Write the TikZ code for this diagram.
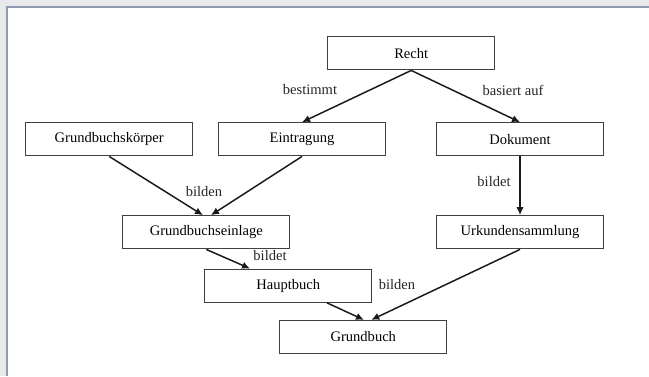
\documentclass[tikz,border=0pt]{standalone}
\usepackage{fontspec}
\setmainfont{Liberation Serif}
\usetikzlibrary{arrows.meta}
\definecolor{bggrey}{HTML}{E8E9EB}
\definecolor{edge}{HTML}{8E9AB0}
\tikzset{b/.style={draw=black!75,line width=.9pt,fill=white,minimum width=125.2pt,minimum height=24.8pt,inner sep=0pt},
 lbl/.style={inner sep=1pt,text=black!85},
 flow/.style={-{Latex[length=6pt,width=5.5pt]},line width=1.1pt,black!90}}

\begin{document}
\begin{tikzpicture}[x=.75pt,y=-.75pt,font=\fontsize{10.9}{13}\selectfont]
\useasboundingbox (0,0) rectangle (649,376);
\fill[bggrey] (0,0) rectangle (649,376);\fill[white] (6.8,6.8) rectangle (649,376);
\draw[edge,line width=1.1pt] (6.8,376)--(6.8,6.8)--(649,6.8);
% boxes
\node[b](recht) at (411.2,53.3){Recht};
\node[b](gbk) at (109.2,139.3){Grundbuchskörper};
\node[b](ein) at (302,139.3){Eintragung};\node[b](dok) at (520,139.3){Dokument};
\node[b](gbe) at (206.3,232.3){Grundbuchseinlage};\node[b](urk) at (520,232.3){Urkundensammlung};
\node[b](hb) at (288.3,285.7){Hauptbuch};
\node[b](gb) at (363.3,337){Grundbuch};
% arrows
\draw[flow](recht.south)--(ein.north);\draw[flow](recht.south)--(dok.north);
\draw[flow](gbk.south)--([xshift=-2.5pt]gbe.north);\draw[flow](ein.south)--([xshift=3.5pt]gbe.north);
\draw[flow](dok.south)--(urk.north);
\draw[flow](gbe.south)--([xshift=-28.7pt]hb.north);
\draw[flow]([xshift=29pt]hb.south)--([xshift=0.5pt]gb.north);\draw[flow](urk.south)--([xshift=6pt]gb.north);
% labels
\node[lbl](l1) at (310,90){bestimmt};\node[lbl](l2) at (513,90){basiert auf};
\node[lbl](l3) at (204,192){bilden};\node[lbl](l4) at (494,182){bildet};
\node[lbl](l5) at (270,256){bildet};\node[lbl](l6) at (397,285){bilden};
\end{tikzpicture}
\end{document}
